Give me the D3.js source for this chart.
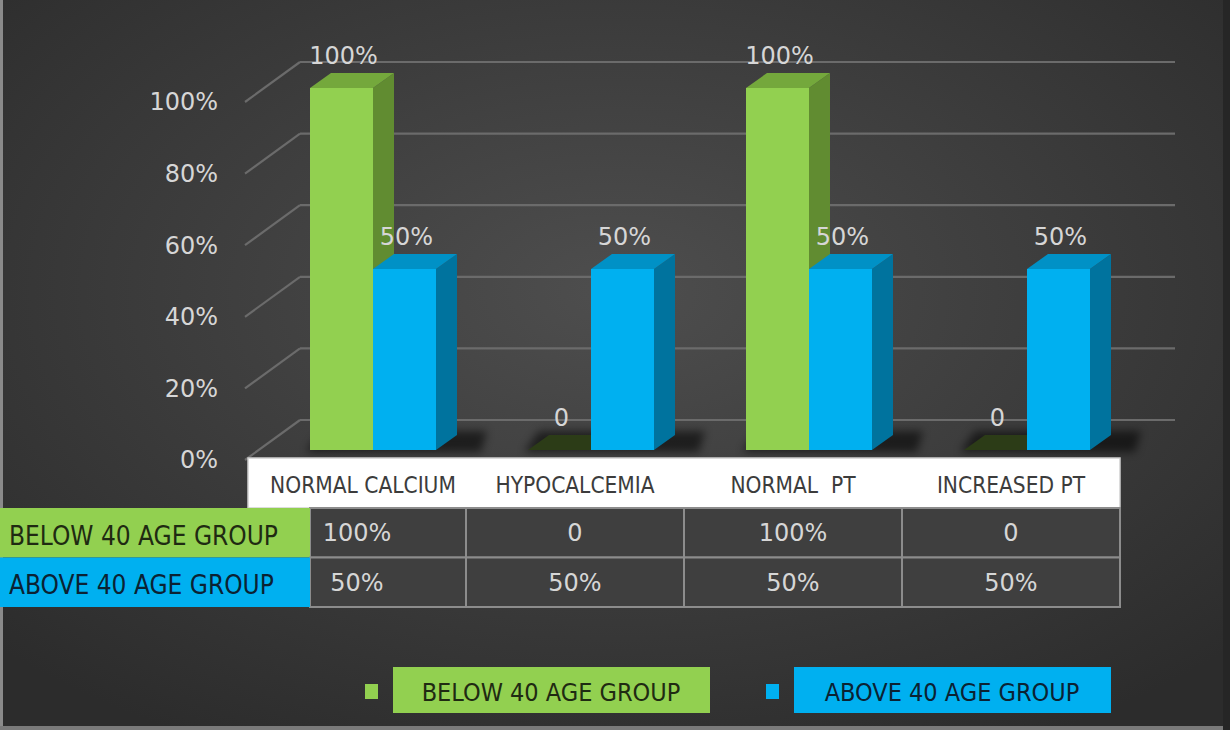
<!DOCTYPE html>
<html>
<head>
<meta charset="utf-8">
<script src="https://cdn.jsdelivr.net/npm/d3@7"></script>
<style>
  html, body { margin: 0; padding: 0; background: #3a3a3a; }
  svg { display: block; }
  text { font-family: "DejaVu Sans", "Open Sans", sans-serif; }
  text.caps { font-family: "DejaVu Sans Condensed", "DejaVu Sans", sans-serif; }
</style>
</head>
<body>
<svg id="chart" width="1230" height="730"></svg>
<script>
var categories = ["NORMAL CALCIUM", "HYPOCALCEMIA", "NORMAL  PT", "INCREASED PT"],
    seriesNames = ["BELOW 40 AGE GROUP", "ABOVE 40 AGE GROUP"],
    below40 = [1, 0, 1, 0],
    above40 = [0.5, 0.5, 0.5, 0.5],
    yTicks = [0, 0.2, 0.4, 0.6, 0.8, 1];

var W = 1230, H = 730,
    DEPTH_X = 55, DEPTH_Y = 40,   // wall depth
    BAR_DX = 21, BAR_DY = 15,     // bar depth
    colors = {
      front: ["#92d050", "#00b0f0"],
      top:   ["#74a83c", "#0091c6"],
      side:  ["#618c31", "#00739e"],
      text:  ["#1f2a12", "#0b2233"]
    },
    series = [below40, above40],
    fmt = function (v) { return v === 0 ? "0" : d3.format(".0%")(v); };

var svg = d3.select("#chart"),
    defs = svg.append("defs");

var grad = defs.append("radialGradient").attr("id", "bg")
  .attr("cx", "50%").attr("cy", "40%").attr("r", "70%");
grad.append("stop").attr("offset", "0%").attr("stop-color", "#4e4e4e");
grad.append("stop").attr("offset", "100%").attr("stop-color", "#2c2c2c");

defs.append("filter").attr("id", "blur")
  .attr("x", "-50%").attr("y", "-50%").attr("width", "200%").attr("height", "200%")
  .append("feGaussianBlur").attr("stdDeviation", 4);

svg.append("rect").attr("width", W).attr("height", H).attr("fill", "url(#bg)");
// image edges
svg.append("rect").attr("x", 0).attr("y", 0).attr("width", 3).attr("height", H).attr("fill", "#8a8a8a");
svg.append("rect").attr("x", 0).attr("y", H - 4).attr("width", W).attr("height", 4).attr("fill", "#7a7a7a");
svg.append("rect").attr("x", W - 7).attr("y", 0).attr("width", 7).attr("height", H).attr("fill", "#262626");

var yFront = d3.scaleLinear().domain([0, 1]).range([460, 102]),
    yBar = d3.scaleLinear().domain([0, 1]).range([450, 88]),
    x0 = d3.scaleBand().domain(categories).range([264, 1136]),
    x1 = d3.scaleBand().domain(seriesNames).range([0, 126]),
    tx = d3.scaleBand().domain(categories).range([248, 1120]),
    WALL_LEFT = 300, WALL_RIGHT = 1175;

// gridlines on the back wall and the side wall
var grid = svg.append("g").attr("stroke", "#6b6b6b").attr("stroke-width", 2.2).attr("fill", "none");
grid.selectAll("line.back").data(yTicks).enter().append("line")
  .attr("class", "back")
  .attr("x1", WALL_LEFT).attr("x2", WALL_RIGHT)
  .attr("y1", function (d) { return yFront(d) - DEPTH_Y; })
  .attr("y2", function (d) { return yFront(d) - DEPTH_Y; });
grid.selectAll("line.side").data(yTicks).enter().append("line")
  .attr("class", "side")
  .attr("x1", WALL_LEFT - DEPTH_X).attr("x2", WALL_LEFT)
  .attr("y1", function (d) { return yFront(d); })
  .attr("y2", function (d) { return yFront(d) - DEPTH_Y; });

svg.append("g").selectAll("text").data(yTicks).enter().append("text")
  .attr("x", 218).attr("y", function (d) { return yFront(d); })
  .attr("dy", "0.35em").attr("text-anchor", "end")
  .attr("fill", "#d6d6d6").attr("font-size", 24)
  .text(d3.format(".0%"));

// bars
var groups = svg.append("g").selectAll("g").data(categories).enter().append("g")
  .attr("transform", function (d) { return "translate(" + (x0(d) + (x0.bandwidth() - 126) / 2) + ",0)"; });

groups.append("path")
  .attr("d", function () {
    var b = yBar(0);
    return "M" + (-4) + "," + (b + 2) + "L" + (126 + BAR_DX + 24) + "," + (b + 2) +
           "L" + (126 + BAR_DX + 30) + "," + (b - BAR_DY - 4) + "L" + (BAR_DX - 10) + "," + (b - BAR_DY - 4) + "Z";
  })
  .attr("fill", "#000").attr("opacity", 0.55).attr("filter", "url(#blur)");

groups.each(function (cat, ci) {
  var g = d3.select(this);
  seriesNames.forEach(function (s, si) {
    var v = series[si][ci],
        xl = x1(s), xr = x1(s) + x1.bandwidth(),
        yt = yBar(v), yb = yBar(0),
        bar = g.append("g");
    if (v > 0) {
      bar.append("rect").attr("x", xl).attr("y", yt).attr("width", xr - xl).attr("height", yb - yt)
        .attr("fill", colors.front[si]);
      bar.append("path")
        .attr("d", "M" + xr + "," + yt + "L" + (xr + BAR_DX) + "," + (yt - BAR_DY) +
                   "L" + (xr + BAR_DX) + "," + (yb - BAR_DY) + "L" + xr + "," + yb + "Z")
        .attr("fill", colors.side[si]);
    }
    bar.append("path")
      .attr("d", "M" + xl + "," + yt + "L" + xr + "," + yt + "L" + (xr + BAR_DX) + "," + (yt - BAR_DY) +
                 "L" + (xl + BAR_DX) + "," + (yt - BAR_DY) + "Z")
      .attr("fill", v > 0 ? colors.top[si] : "#2c3c17");
    bar.append("text")
      .attr("x", (xl + xr) / 2 + 2).attr("y", yt - 32)
      .attr("dy", "0.35em").attr("text-anchor", "middle")
      .attr("fill", "#d6d6d6").attr("font-size", 24)
      .text(fmt(v));
  });
});

// data table
var HEAD_TOP = 458, HEAD_BOT = 508, ROW_H = 49.5;
svg.append("rect").attr("x", tx.range()[0]).attr("y", HEAD_TOP)
  .attr("width", tx.range()[1] - tx.range()[0]).attr("height", HEAD_BOT - HEAD_TOP)
  .attr("fill", "#ffffff").attr("stroke", "#d0d0d0").attr("stroke-width", 1.5);
svg.append("g").selectAll("text").data(categories).enter().append("text")
  .attr("class", "caps")
  .attr("x", function (d, i) { return tx(d) + tx.bandwidth() / 2 + (i === 0 ? 6 : 0); })
  .attr("y", (HEAD_TOP + HEAD_BOT) / 2 + 2).attr("dy", "0.35em")
  .attr("text-anchor", "middle").attr("fill", "#3c3c3c").attr("font-size", 22.5)
  .style("white-space", "pre")
  .text(function (d) { return d; });

var table = svg.append("g");
seriesNames.forEach(function (s, si) {
  var top = HEAD_BOT + si * ROW_H;
  table.append("rect").attr("x", 310).attr("y", top)
    .attr("width", tx.range()[1] - 310).attr("height", ROW_H)
    .attr("fill", "#3f3f3f").attr("stroke", "#8c8c8c").attr("stroke-width", 2);
  table.selectAll("line.col" + si).data(categories.slice(1)).enter().append("line")
    .attr("x1", function (d) { return tx(d); }).attr("x2", function (d) { return tx(d); })
    .attr("y1", top).attr("y2", top + ROW_H)
    .attr("stroke", "#8c8c8c").attr("stroke-width", 2);
  table.append("rect").attr("x", 0).attr("y", top).attr("width", 310).attr("height", ROW_H)
    .attr("fill", colors.front[si]);
  table.append("text").attr("class", "caps")
    .attr("x", 9).attr("y", top + ROW_H / 2 + 3).attr("dy", "0.35em")
    .attr("fill", colors.text[si]).attr("font-size", 26)
    .text(s);
  table.selectAll("text.val" + si).data(categories).enter().append("text")
    .attr("x", function (d) { return tx(d) + tx.bandwidth() / 2; })
    .attr("y", top + ROW_H / 2).attr("dy", "0.35em")
    .attr("text-anchor", "middle").attr("fill", "#d6d6d6").attr("font-size", 24)
    .text(function (d, i) { return fmt(series[si][i]); });
});

// legend
var legend = svg.append("g").selectAll("g").data(seriesNames).enter().append("g")
  .attr("transform", function (d, i) { return "translate(" + (365 + i * 401) + ",0)"; });
legend.append("rect").attr("x", 0).attr("y", 684).attr("width", 13).attr("height", 15)
  .attr("fill", function (d, i) { return colors.front[i]; });
legend.append("rect").attr("x", 28).attr("y", 667).attr("width", 317).attr("height", 46)
  .attr("fill", function (d, i) { return colors.front[i]; });
legend.append("text").attr("class", "caps")
  .attr("x", 186).attr("y", 692).attr("dy", "0.35em")
  .attr("text-anchor", "middle").attr("font-size", 25)
  .attr("fill", function (d, i) { return colors.text[i]; })
  .text(function (d) { return d; });
</script>
</body>
</html>
